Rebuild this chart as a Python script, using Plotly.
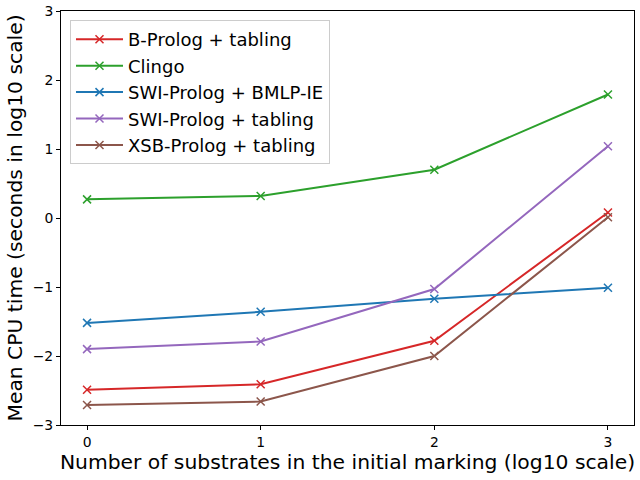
import plotly.graph_objects as go

x_vals = [0, 1, 2, 3]
series_names = ["B-Prolog + tabling", "Clingo", "SWI-Prolog + BMLP-IE",
                "SWI-Prolog + tabling", "XSB-Prolog + tabling"]
bprolog = [-2.49, -2.41, -1.78, 0.08]
clingo = [0.27, 0.32, 0.70, 1.79]
swi_bmlp = [-1.52, -1.36, -1.17, -1.01]
swi_tab = [-1.90, -1.79, -1.03, 1.04]
xsb = [-2.71, -2.66, -2.00, 0.01]
colors = ["#d62728", "#2ca02c", "#1f77b4", "#9467bd", "#8c564b"]
x_ticks = [0, 1, 2, 3]
y_ticks = [-3, -2, -1, 0, 1, 2, 3]

font = "DejaVu Sans"
fig = go.Figure()
for name, ys, c in zip(series_names, [bprolog, clingo, swi_bmlp, swi_tab, xsb], colors):
    fig.add_trace(go.Scatter(x=x_vals, y=ys, name=name, mode="lines+markers",
                             line=dict(color=c, width=2),
                             marker=dict(symbol="x-thin", size=8, line=dict(color=c, width=1.5))))

fig.update_layout(
    width=640, height=480,
    margin=dict(l=61, r=6, t=11, b=55),
    plot_bgcolor="white", paper_bgcolor="white",
    font=dict(family=font, color="black"),
    showlegend=True,
    legend=dict(x=0.0157, y=0.978, xanchor="left", yanchor="top",
                bgcolor="rgba(255,255,255,0.8)", bordercolor="#cccccc", borderwidth=1,
                font=dict(size=18, family=font), tracegroupgap=0, itemwidth=47),
)
fig.update_xaxes(range=[-0.15, 3.15], tickvals=x_ticks, ticktext=[str(t) for t in x_ticks],
                 showgrid=False, zeroline=False, showline=True, linecolor="black", linewidth=1,
                 mirror=True, ticks="outside", ticklen=4, tickcolor="black", automargin=False,
                 tickfont=dict(size=13.9, family=font),
                 title=dict(text="Number of substrates in the initial marking (log10 scale)",
                            font=dict(size=20.3, family=font), standoff=6))
fig.update_yaxes(range=[-3, 3], tickvals=y_ticks, ticktext=[("\u2212" + str(-t)) if t < 0 else str(t) for t in y_ticks],
                 showgrid=False, zeroline=False, showline=True, linecolor="black", linewidth=1,
                 mirror=True, ticks="outside", ticklen=4, tickcolor="black", automargin=False,
                 tickfont=dict(size=13.9, family=font),
                 title=dict(text="Mean CPU time (seconds in log10 scale)",
                            font=dict(size=20.3, family=font), standoff=4))
fig.write_html("out.html", config={"displayModeBar": False},
               post_script="document.body.style.margin='0px';document.body.style.overflow='hidden';")
